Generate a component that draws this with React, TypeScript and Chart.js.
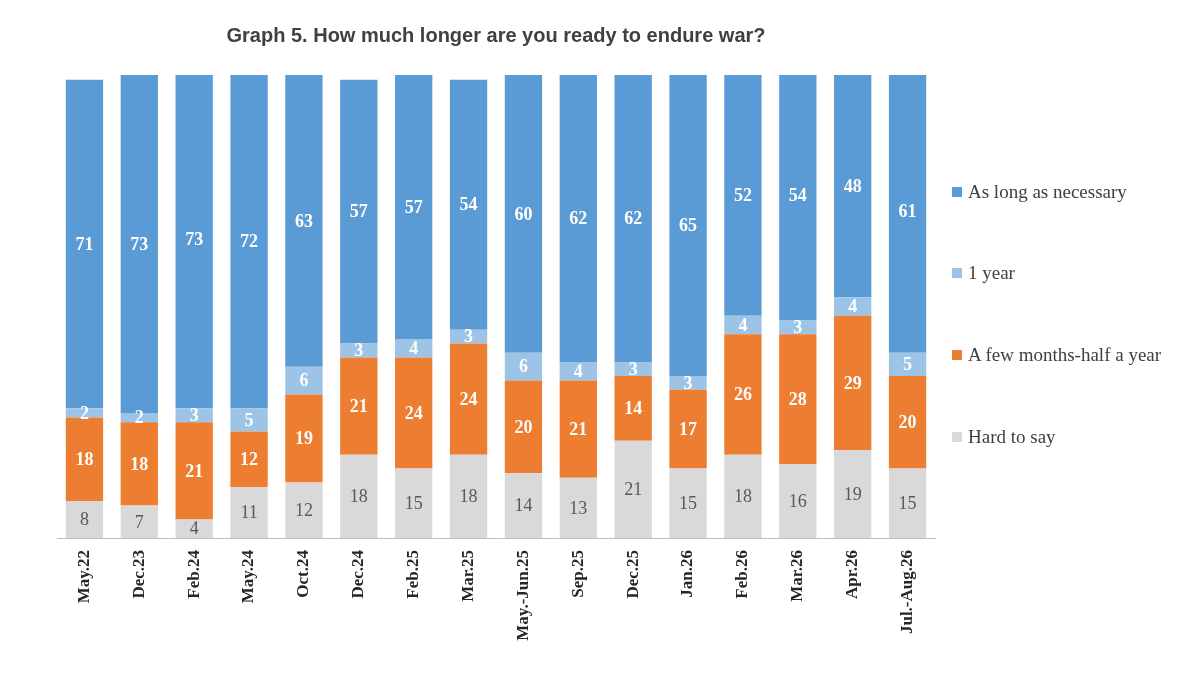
import React, { useEffect, useRef } from "react";
import { Chart, registerables } from "chart.js";
Chart.register(...registerables);

const categories = ["May.22","Dec.23","Feb.24","May.24","Oct.24","Dec.24","Feb.25","Mar.25","May.-Jun.25","Sep.25","Dec.25","Jan.26","Feb.26","Mar.26","Apr.26","Jul.-Aug.26"];
const hardToSay = [8,7,4,11,12,18,15,18,14,13,21,15,18,16,19,15];
const fewMonths = [18,18,21,12,19,21,24,24,20,21,14,17,26,28,29,20];
const oneYear = [2,2,3,5,6,3,4,3,6,4,3,3,4,3,4,5];
const asLong = [71,73,73,72,63,57,57,54,60,62,62,65,52,54,48,61];
const seriesNames = ["Hard to say","A few months-half a year","1 year","As long as necessary"];
const colors = ["#d9d9d9","#ed7d31","#9dc3e6","#5b9bd5"];

const labelPlugin = {
  id: "segLabels",
  afterDatasetsDraw(chart: any) {
    const ctx = chart.ctx;
    ctx.save();
    ctx.textAlign = "center";
    ctx.textBaseline = "middle";
    chart.data.datasets.forEach((ds: any, i: number) => {
      const meta = chart.getDatasetMeta(i);
      meta.data.forEach((bar: any, j: number) => {
        const y = (bar.y + bar.base) / 2;
        ctx.font = i === 0 ? "18px 'Liberation Serif'" : "bold 18px 'Liberation Serif'";
        ctx.fillStyle = i === 0 ? "#595959" : "#ffffff";
        ctx.fillText(String(ds.data[j]), bar.x, y + 1);
      });
    });
    ctx.restore();
  },
};

export default function App() {
  const ref = useRef<HTMLCanvasElement>(null);
  useEffect(() => {
    document.body.style.margin = "0";
    const data = [hardToSay, fewMonths, oneYear, asLong];
    const chart = new Chart(ref.current!, {
      type: "bar",
      data: {
        labels: categories,
        datasets: data.map((d, i) => ({
          label: seriesNames[i],
          data: d,
          backgroundColor: colors[i],
          borderColor: "#ffffff",
          borderWidth: 0,
          categoryPercentage: 1,
          barPercentage: 0.68,
        })),
      },
      options: {
        animation: false,
        responsive: false,
        layout: { padding: { left: 57, right: 265, top: 0, bottom: 0 } },
        plugins: {
          legend: { display: false },
          tooltip: { enabled: false },
          title: {
            display: true,
            text: "Graph 5. How much longer are you ready to endure war?",
            color: "#404040",
            font: { family: "'Liberation Sans'", size: 20, weight: "bold" },
            padding: { top: 24, bottom: 27 },
          },
        },
        scales: {
          x: {
            stacked: true,
            grid: { display: false },
            border: { color: "#bfbfbf" },
            ticks: {
              minRotation: 90,
              maxRotation: 90,
              color: "#262626",
              font: { family: "'Liberation Serif'", size: 17, weight: "bold" },
              padding: 4,
            },
            afterFit: (s: any) => { s.height = 150; },
          },
          y: { stacked: true, display: false, min: 0, max: 100 },
        },
      },
      plugins: [labelPlugin],
    });
    return () => chart.destroy();
  }, []);

  const legend = [
    { name: "As long as necessary", c: colors[3], top: 178 },
    { name: "1 year", c: colors[2], top: 259 },
    { name: "A few months-half a year", c: colors[1], top: 341 },
    { name: "Hard to say", c: colors[0], top: 423 },
  ];
  return (
    <div style={{ position: "relative", width: 1200, height: 688, background: "#fff" }}>
      <canvas ref={ref} width={1200} height={688} style={{ position: "absolute", left: 0, top: 0 }} />
      {legend.map((l) => (
        <div key={l.name} style={{ position: "absolute", left: 952, top: l.top, width: 230, fontFamily: "'Liberation Serif'", fontSize: 19, color: "#404040", lineHeight: "27px", display: "flex" }}>
          <span style={{ display: "inline-block", width: 10, height: 10, background: l.c, marginTop: 9, marginRight: 6, flex: "none" }} />
          <span>{l.name}</span>
        </div>
      ))}
    </div>
  );
}
